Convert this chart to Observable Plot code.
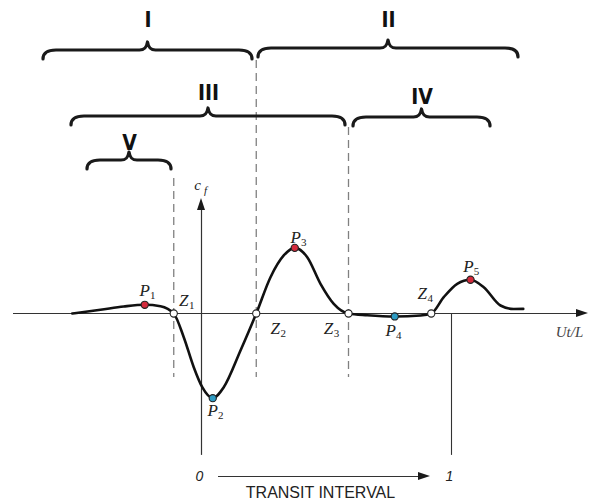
<!DOCTYPE html>
<html><head><meta charset="utf-8">
<script src="https://cdn.jsdelivr.net/npm/d3@7"></script>
<script src="https://cdn.jsdelivr.net/npm/@observablehq/plot@0.6"></script>
<style>body{margin:0;background:#fff}</style>
</head><body><div id="chart"></div>
<script>
// ---- curve c_f(Ut/L) ----
const curveX = [-0.517,-0.404,-0.311,-0.227,-0.164,-0.111,-0.071,-0.031,0.003,0.045,0.089,0.156,0.219,0.276,0.329,0.373,0.423,0.476,0.529,0.588,0.663,0.773,0.876,0.919,0.969,1.023,1.076,1.129,1.196,1.249,1.287];
const curveY = [0,0.056,0.106,0.132,0.111,0,-0.359,-0.814,-1.117,-1.283,-1.117,-0.561,0,0.550,0.879,0.995,0.853,0.450,0.147,0,-0.026,-0.045,-0.030,0,0.247,0.450,0.511,0.398,0.121,0.068,0.070];

// ---- key points ----
const keyLetter = ["P","Z","P","Z","P","Z","P","Z","P"];
const keySub    = ["1","1","2","2","3","3","4","4","5"];
const keyX = [-0.227,-0.111,0.045,0.219,0.373,0.588,0.773,0.919,1.076];
const keyY = [0.132,0,-1.283,0,0.995,0,-0.045,0,0.511];
const keyKind = ["max","zero","min","zero","max","zero","min","zero","max"];
// label offsets (px)
const keyDx = [0,10,0,19,1,-20,-4,-9,-2];
const keyDy = [-14,-13,12,15,-10,15,14,-20,-13];

// ---- regions (braces) ----
const braceLabel = ["I","II","III","IV","V"];
const braceStart = [-0.632,0.228,-0.520,0.608,-0.456];
const braceEnd   = [0.204,1.268,0.576,1.156,-0.120];
const braceLevel = [3.985,4.015,2.985,2.970,2.318];
const braceLabelLevel = [4.439,4.439,3.341,3.280,2.576];

// ---- dashed separators at Z1, Z2, Z3 ----
const dashX = [-0.111,0.219,0.588];
const dashTop = [2.045,3.833,2.818];
const dashBottom = -0.970;

// ---- axes ----
const axisXStart = -0.752, axisXTip = 1.548;
const axisYBottom = -2.15, axisYTip = 1.742;
const transitY = -2.47, transitStart = 0.068, transitTip = 0.916;
const transitTicks = ["0","1"];
const transitTickX = [0,1];

const serif = "'Liberation Serif','DejaVu Serif',serif";
const sans = "'Liberation Sans',Arial,sans-serif";

function bracePath(x0, x1, y) {
  const xc = (x0 + x1) / 2;
  return `M${x0},${y+9} C${x0},${y+3} ${x0+4},${y} ${x0+13},${y}` +
         ` L${xc-8},${y} C${xc-3},${y} ${xc-1},${y-2} ${xc},${y-8}` +
         ` C${xc+1},${y-2} ${xc+3},${y} ${xc+8},${y}` +
         ` L${x1-13},${y} C${x1-4},${y} ${x1},${y+3} ${x1},${y+9}`;
}

function braceMark(index, scales) {
  const {x, y} = scales;
  const g = d3.create("svg:g");
  braceStart.forEach((s, i) => {
    g.append("path").attr("d", bracePath(x(s), x(braceEnd[i]), y(braceLevel[i])))
      .attr("fill", "none").attr("stroke", "#1a1a1a").attr("stroke-width", 3.2)
      .attr("stroke-linecap", "round").attr("stroke-linejoin", "round");
  });
  return g.node();
}

const arrowTipX = [axisXTip, 0, transitTip];
const arrowTipY = [0, axisYTip, transitY];
const arrowDir  = ["right","up","right"];
function arrowMark(index, scales) {
  const {x, y} = scales;
  const g = d3.create("svg:g");
  arrowTipX.forEach((tx, i) => {
    const px = x(tx), py = y(arrowTipY[i]);
    const L = 12, w = 4;
    const d = arrowDir[i] === "right"
      ? `M${px},${py} L${px-L},${py-w} L${px-L},${py+w} Z`
      : `M${px},${py} L${px-w},${py+L} L${px+w},${py+L} Z`;
    g.append("path").attr("d", d).attr("fill", "#1a1a1a");
  });
  return g.node();
}

const idx = d3.range(keyX.length);
const bIdx = d3.range(braceLabel.length);
const dIdx = d3.range(dashX.length);
const kindFill = {max: "#d42a3c", min: "#2e9cc4", zero: "#ffffff"};

const chart = Plot.plot({
  width: 593, height: 500, margin: 0,
  x: {domain: [-0.804, 1.568], axis: null},
  y: {domain: [-2.8333, 4.7424], axis: null},
  style: {background: "#fff", overflow: "visible"},
  marks: [
    // dashed separators
    Plot.ruleX(dIdx, {x: i => dashX[i], y1: i => dashTop[i], y2: dashBottom, stroke: "#808080", strokeWidth: 1.3, strokeDasharray: "8,5"}),
    // axes
    Plot.ruleY([0], {x1: axisXStart, x2: axisXTip - 0.03, stroke: "#333", strokeWidth: 1.2}),
    Plot.ruleX([0], {y1: axisYBottom, y2: axisYTip - 0.15, stroke: "#333", strokeWidth: 1.2}),
    Plot.ruleX([1], {y1: axisYBottom, y2: 0, stroke: "#333", strokeWidth: 1.1}),
    Plot.ruleY([transitY], {x1: transitStart, x2: transitTip - 0.03, stroke: "#333", strokeWidth: 1.2}),
    arrowMark,
    // braces
    braceMark,
    Plot.text(bIdx, {x: i => (braceStart[i] + braceEnd[i]) / 2, y: i => braceLabelLevel[i], text: i => braceLabel[i],
      fontFamily: "'DejaVu Sans Condensed','DejaVu Sans',sans-serif", fontWeight: "bold", fontSize: 21, fill: "#111"}),
    // curve
    Plot.line(curveX.map((x, i) => ({x, y: curveY[i]})), {x: "x", y: "y", curve: "monotone-x", stroke: "#111", strokeWidth: 2.6}),
    // key points
    Plot.dot(idx, {x: i => keyX[i], y: i => keyY[i], r: 3.6, fill: i => kindFill[keyKind[i]], stroke: "#222", strokeWidth: 1.1}),
    // key point labels: letter + subscript (dx/dy are constants per mark)
    ...idx.map(i => Plot.text([i], {x: keyX[i], y: keyY[i], text: [keyLetter[i]], dx: keyDx[i], dy: keyDy[i],
      fontFamily: serif, fontStyle: "italic", fontSize: 17, fill: "#222"})),
    ...idx.map(i => Plot.text([i], {x: keyX[i], y: keyY[i], text: [keySub[i]], dx: keyDx[i] + 8, dy: keyDy[i] + 5,
      fontFamily: serif, fontSize: 11, fill: "#222"})),
    // axis labels
    Plot.text(["c"], {x: 0, y: axisYTip + 0.2, dx: -4, text: d => d, fontFamily: serif, fontStyle: "italic", fontSize: 15, fill: "#222"}),
    Plot.text(["f"], {x: 0, y: axisYTip + 0.2, dx: 4, dy: 5, text: d => d, fontFamily: serif, fontStyle: "italic", fontSize: 11, fill: "#222"}),
    Plot.text(["Ut/L"], {x: 1.472, y: -0.29, text: d => d, fontFamily: serif, fontStyle: "italic", fontSize: 15, fill: "#444"}),
    // transit interval
    Plot.text(transitTicks, {x: (d, i) => transitTickX[i], y: transitY, dx: -2, text: d => d, fontFamily: sans, fontStyle: "italic", fontSize: 14, fill: "#222"}),
    Plot.text(["TRANSIT INTERVAL"], {x: 0.476, y: -2.712, text: d => d, fontFamily: sans, fontSize: 16, fill: "#222"})
  ]
});
document.getElementById("chart").appendChild(chart);
</script>
</body></html>
